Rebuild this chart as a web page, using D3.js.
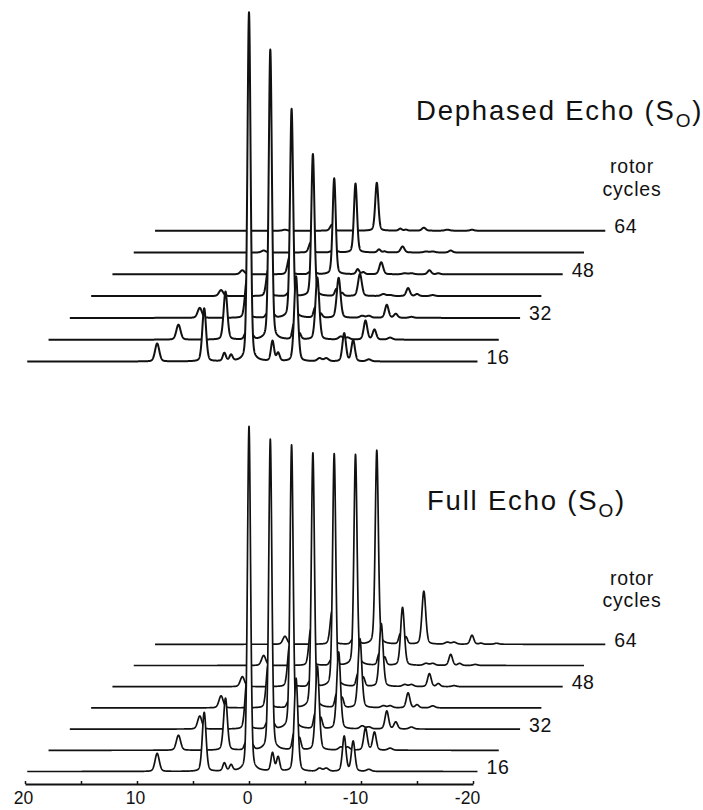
<!DOCTYPE html>
<html>
<head>
<meta charset="utf-8">
<script src="https://cdn.jsdelivr.net/npm/d3@7"></script>
<style>
  html, body { margin: 0; padding: 0; background: #fff; }
  svg { display: block; }
  text { font-family: "Liberation Sans", Arial, Helvetica, sans-serif; fill: #111; }
</style>
</head>
<body>
<svg id="chart" width="703" height="810"></svg>
<script>
// Rotor cycles of each trace, front (16) to back (64)
const cycles = [16, 24, 32, 40, 48, 56, 64];
const labelledCycles = [16, 32, 48, 64];

// Resonance positions (kHz) and line widths (kHz) shared by every trace
const peakPos   = [8.2, 4.0, 2.2, 1.6, 0, -2.1, -2.6, -4.2, -6.3, -6.9, -8.5, -9.3, -10.7];
const peakWidth = [0.19, 0.17, 0.14, 0.14, 0.14, 0.14, 0.14, 0.17, 0.2, 0.2, 0.16, 0.16, 0.2];

// Dephased echo intensities, one row per trace (16 ... 64 cycles), one column per peak
const dephased16 = [18, 53, 8, 6, 349, 20, 8, 85, 3, 3, 28, 21, 2];
const dephased24 = [15, 48, 6, 4, 290, 15, 6, 62, 3, 2, 19, 10, 2];
const dephased32 = [10, 38, 4, 3, 209, 10, 4, 40, 2, 2, 13, 4, 1];
const dephased40 = [6, 26, 3, 2, 142, 7, 3, 22, 2, 1, 8, 2, 1];
const dephased48 = [4, 17, 2, 1, 96, 5, 2, 12, 1, 1, 4, 1, 0];
const dephased56 = [2, 10, 1, 1, 69, 3, 1, 6, 1, 1, 2, 0, 0];
const dephased64 = [1, 6, 0, 0, 48, 2, 1, 3, 1, 0, 1, 0, 0];

// Full echo intensities, same layout
const full16 = [18, 59, 8, 6, 345, 18, 14, 93, 3, 3, 35, 30, 2];
const full24 = [15, 52, 7, 5, 311, 16, 12, 84, 3, 3, 22, 18, 2];
const full32 = [13, 48, 6, 5, 284, 15, 11, 77, 3, 2, 18, 7, 2];
const full40 = [12, 43, 6, 4, 255, 13, 10, 69, 2, 2, 15, 3, 2];
const full48 = [10, 40, 5, 4, 233, 12, 9, 63, 2, 2, 13, 3, 1];
const full56 = [10, 36, 5, 3, 211, 11, 8, 58, 2, 2, 11, 2, 1];
const full64 = [8, 33, 4, 3, 194, 10, 7, 53, 2, 2, 9, 1, 1];

// Axis ticks (kHz)
const axisTicks = [20, 15, 10, 5, 0, -5, -10, -15, -20];
const axisLabels = [20, 10, 0, -10, -20];

const dephasedRows = [dephased16, dephased24, dephased32, dephased40, dephased48, dephased56, dephased64];
const fullRows = [full16, full24, full32, full40, full48, full56, full64];

const svg = d3.select("#chart");

const x = d3.scaleLinear().domain([20, -20]).range([25, 473]);
const amp = d3.scaleLinear().domain([0, 350]).range([0, 350]);

const traceStart = 19.8, traceEnd = -20.4, step = 0.01;
const stepX = 21.3;            // horizontal stagger between traces (px)

function lineShape(d, w) {
  const g = Math.exp(-d * d / (2 * w * w));
  const l = 1 / (1 + (d / (1.1774 * w)) ** 2);
  return 0.75 * g + 0.25 * l;
}

function spectrum(heights) {
  const pts = [];
  for (let v = traceStart; v >= traceEnd - 1e-9; v -= step) {
    let s = 0;
    for (let i = 0; i < peakPos.length; i++) {
      if (heights[i]) s += heights[i] * lineShape(v - peakPos[i], peakWidth[i]);
    }
    pts.push([v, s]);
  }
  return pts;
}

function drawPanel(rows, base0, stepY, strokeW) {
  const g = svg.append("g");
  // back to front so nearer traces hide the ones behind
  for (let k = rows.length - 1; k >= 0; k--) {
    const base = base0 - k * stepY;
    const dx = k * stepX;
    const data = spectrum(rows[k]);
    const tg = g.append("g").attr("transform", `translate(${dx},0)`);
    tg.append("path")
      .datum(data)
      .attr("fill", "#fff")
      .attr("d", d3.area()
        .x(d => x(d[0]))
        .y0(base + 1)
        .y1(d => base - amp(d[1])));
    tg.append("path")
      .datum(data)
      .attr("fill", "none")
      .attr("stroke", "#111")
      .attr("stroke-width", strokeW)
      .attr("stroke-linejoin", "round")
      .attr("d", d3.line()
        .x(d => x(d[0]))
        .y(d => base - amp(d[1])));
    if (labelledCycles.includes(cycles[k])) {
      g.append("text")
        .attr("x", x(traceEnd) + dx + 9)
        .attr("y", base + 2.5)
        .attr("font-size", 19.5)
        .attr("letter-spacing", 0.6)
        .text(cycles[k]);
    }
  }
  return g;
}

drawPanel(dephasedRows, 361.5, 21.8, 2.0);
drawPanel(fullRows, 771.5, 21.2, 1.7);

// Panel titles
function title(tx, ty, main) {
  const t = svg.append("text")
    .attr("x", tx).attr("y", ty)
    .attr("font-size", 27.5)
    .attr("letter-spacing", 1.8);
  t.append("tspan").text(main + " (S");
  t.append("tspan").attr("font-size", 19).attr("dy", 7).text("O");
  t.append("tspan").attr("dy", -7).text(")");
}
title(416, 120, "Dephased Echo");
title(427, 510, "Full Echo");

function rotorLabel(cx, y1, y2) {
  svg.append("text").attr("x", cx).attr("y", y1).attr("text-anchor", "middle")
    .attr("font-size", 19.5).attr("letter-spacing", 0.8).text("rotor");
  svg.append("text").attr("x", cx).attr("y", y2).attr("text-anchor", "middle")
    .attr("font-size", 19.5).attr("letter-spacing", 0.8).text("cycles");
}
rotorLabel(632, 173, 196);
rotorLabel(632, 585, 607);

// Frequency axis
const axis = d3.axisBottom(x)
  .tickValues(axisTicks)
  .tickSizeInner(-3)
  .tickSizeOuter(0)
  .tickPadding(8)
  .tickFormat(d => axisLabels.includes(d) ? String(d) : "");
const ag = svg.append("g").attr("transform", "translate(0,784)").call(axis);
ag.select(".domain").attr("stroke", "#111").attr("stroke-width", 2);
ag.selectAll(".tick line").attr("stroke", "#111").attr("stroke-width", 1.5);
ag.selectAll(".tick text")
  .attr("font-size", 17.5)
  .attr("font-family", "Liberation Sans, Arial, sans-serif")
  .attr("fill", "#111")
  .attr("dx", d => d < 0 ? -6 : -2);
</script>
</body>
</html>
